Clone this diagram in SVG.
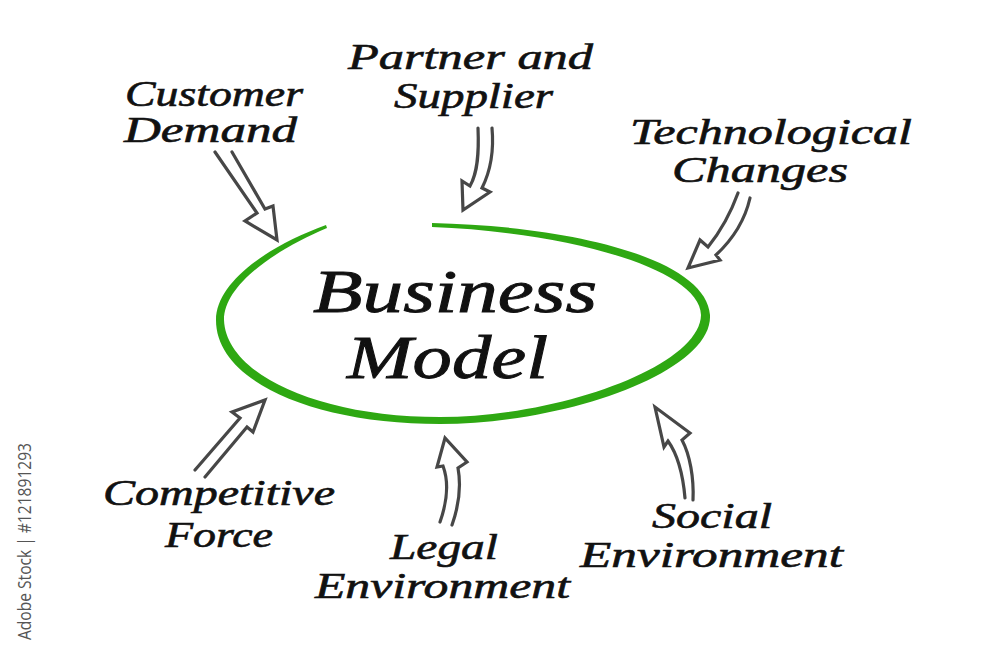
<svg xmlns="http://www.w3.org/2000/svg" width="1000" height="669" viewBox="0 0 1000 669">
<style>
.lbl{font-family:"Liberation Serif","DejaVu Serif",serif;font-style:italic;font-size:35px;fill:#111;stroke:#111;stroke-width:0.6;}
.title{font-family:"Liberation Serif","DejaVu Serif",serif;font-style:italic;font-size:62px;fill:#111;stroke:#111;stroke-width:0.9;}
.arrow{fill:none;stroke:#474747;stroke-width:3.2;stroke-linejoin:miter;stroke-linecap:round;}
.wm{font-family:"Open Sans","DejaVu Sans",sans-serif;font-size:19px;fill:#555;}
</style>
<rect width="1000" height="669" fill="#fff"/>
<g id="business-model">
<path d="M432,223 C 570,226 706,258 710,315 C 713,372 565,424 440,424 C 315,424 216,382 216,320 C 216,282 268,246 326,225 L327,228 C 275,250 224,285 224,320 C 226,375 320,417 440,417 C 560,417 700,366 701,315 C 700,268 565,232 432,227 Z" fill="#2ea812"/>
<text class="title" x="313" y="312" textLength="284" lengthAdjust="spacingAndGlyphs">Business</text>
<text class="title" x="347" y="378" textLength="201" lengthAdjust="spacingAndGlyphs">Model</text>
</g>
<g id="customer-demand">
<text class="lbl" x="125" y="106" textLength="178" lengthAdjust="spacingAndGlyphs">Customer</text>
<text class="lbl" x="124" y="142" textLength="173" lengthAdjust="spacingAndGlyphs">Demand</text>
</g>
<g id="partner-supplier">
<text class="lbl" x="348" y="69" textLength="245" lengthAdjust="spacingAndGlyphs">Partner and</text>
<text class="lbl" x="394" y="108" textLength="159" lengthAdjust="spacingAndGlyphs">Supplier</text>
</g>
<g id="technological-changes">
<text class="lbl" x="630" y="144" textLength="282" lengthAdjust="spacingAndGlyphs">Technological</text>
<text class="lbl" x="672" y="182" textLength="176" lengthAdjust="spacingAndGlyphs">Changes</text>
</g>
<g id="competitive-force">
<text class="lbl" x="103" y="505" textLength="232" lengthAdjust="spacingAndGlyphs">Competitive</text>
<text class="lbl" x="165" y="547" textLength="108" lengthAdjust="spacingAndGlyphs">Force</text>
</g>
<g id="legal-environment">
<text class="lbl" x="390" y="559" textLength="108" lengthAdjust="spacingAndGlyphs">Legal</text>
<text class="lbl" x="315" y="598" textLength="255" lengthAdjust="spacingAndGlyphs">Environment</text>
</g>
<g id="social-environment">
<text class="lbl" x="652" y="528" textLength="120" lengthAdjust="spacingAndGlyphs">Social</text>
<text class="lbl" x="580" y="567" textLength="263" lengthAdjust="spacingAndGlyphs">Environment</text>
</g>
<g id="connectors">
<path class="arrow" d="M215,152 L257,213 L245,221 L277,240 L273,206 L265,209 L232,152"/>
<path class="arrow" d="M478,128 C 479,152 478,172 470,186 L462,181 L463,210 L490,192 L482,188 C 490,172 494,150 492,128"/>
<path class="arrow" d="M738,193 C 730,215 720,232 708,247 L700,240 L688,268 L720,260 L716,255 C 732,240 745,220 750,198"/>
<path class="arrow" d="M195,470 L240,418 L232,412 L265,400 L253,432 L247,427 L205,477"/>
<path class="arrow" d="M440,522 C 446,505 450,485 443,466 L437,467 L445,438 L467,462 L458,468 C 462,490 458,508 452,525"/>
<path class="arrow" d="M685,498 C 683,475 678,455 668,441 L664,447 L655,407 L690,433 L682,440 C 690,455 694,478 693,500"/>
</g>
<text class="wm" transform="translate(31,640) rotate(-90)" textLength="197" lengthAdjust="spacingAndGlyphs">Adobe Stock | #121891293</text>
</svg>
